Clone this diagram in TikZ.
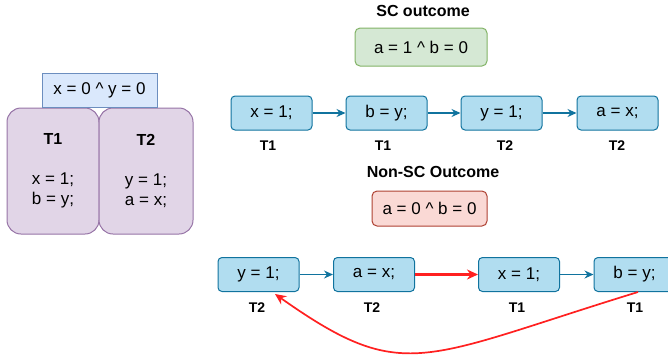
\documentclass[tikz,border=0pt]{standalone}
\usepackage{fontspec}
\setmainfont{Liberation Sans}
\usetikzlibrary{arrows.meta}
\definecolor{opfill}{HTML}{B1DDF0}
\definecolor{opline}{HTML}{10739E}
\definecolor{initfill}{HTML}{DAE8FC}
\definecolor{initline}{HTML}{6C8EBF}
\definecolor{thfill}{HTML}{E1D5E7}
\definecolor{thline}{HTML}{9673A6}
\definecolor{okfill}{HTML}{D5E8D4}
\definecolor{okline}{HTML}{82B366}
\definecolor{badfill}{HTML}{FAD9D5}
\definecolor{badline}{HTML}{AE4132}
\definecolor{cyclered}{HTML}{FF2020}
\begin{document}
\begin{tikzpicture}[x=1pt,y=-1pt,
    op/.style={draw=opline,fill=opfill,line width=1pt,rounded corners=4pt,minimum width=81pt,minimum height=34pt,inner sep=0pt,font=\fontsize{17}{20}\selectfont},
    tid/.style={font=\fontsize{14}{16}\selectfont\bfseries},
    title/.style={font=\fontsize{16}{18}\selectfont\bfseries},
    thread/.style={draw=thline,fill=thfill,line width=1pt,rounded corners=14pt,minimum height=126pt,inner sep=0pt,align=center,font=\fontsize{17}{20}\selectfont},
    result/.style={line width=1pt,rounded corners=5pt,minimum height=38pt,inner sep=0pt,font=\fontsize{17}{20}\selectfont}]
  \useasboundingbox (0,0) rectangle (668,360);
  % program
  \node[thread,minimum width=92pt] (t1) at (53,171) {{\fontsize{16}{20}\selectfont\bfseries T1}\\ \\x = 1;\\b = y;};
  \node[thread,minimum width=94pt] (t2) at (146,171) {{\fontsize{16}{20}\selectfont\bfseries T2}\\ \\y = 1;\\a = x;};
  \node[draw=initline,fill=initfill,line width=1pt,minimum width=115pt,minimum height=34pt,inner sep=0pt,font=\fontsize{17}{20}\selectfont] (init) at (99.5,90) {x = 0 \^{} y = 0};
  % SC outcome
  \node[title] (sc) at (423,11) {SC outcome};
  \node[result,draw=okline,fill=okfill,minimum width=132pt] (scres) at (421,47) {a = 1 \^{} b = 0};
  \node[op] (s1) at (271.5,113) {x = 1;};
  \node[op] (s2) at (386.5,113) {b = y;};
  \node[op] (s3) at (501.5,113) {y = 1;};
  \node[op] (s4) at (617.5,113) {a = x;};
  \node[tid] at (268,146) {T1};
  \node[tid] at (383,146) {T1};
  \node[tid] at (505,146) {T2};
  \node[tid] at (617,146) {T2};
  % Non-SC outcome
  \node[title] (nsc) at (433,172) {Non-SC Outcome};
  \node[result,draw=badline,fill=badfill,minimum width=115pt,minimum height=35pt] (nscres) at (429.5,208.5) {a = 0 \^{} b = 0};
  \node[op] (n1) at (258.5,274.5) {y = 1;};
  \node[op] (n2) at (374,274.5) {a = x;};
  \node[op] (n3) at (519,274.5) {x = 1;};
  \node[op] (n4) at (634.5,274.5) {b = y;};
  \node[tid] at (257,308) {T2};
  \node[tid] at (372,308) {T2};
  \node[tid] at (517,308) {T1};
  \node[tid] at (635,308) {T1};
  \begin{scope}[draw=opline,line width=1.3pt,-{Stealth[length=9pt,width=8pt]}]
    \draw (s1) to (s2);
    \draw (s2) to (s3);
    \draw (s3) to (s4);
    \draw (n1) to (n2);
    \draw (n3) to (n4);
  \end{scope}
  \begin{scope}[draw=cyclered,-{Stealth[length=11pt,width=10pt]}]
    \draw[line width=2.6pt] (n2) to (n3);
    \draw[line width=1.7pt] ([xshift=3.5pt]n4.south) .. controls (420,359) and (404,385) .. ([xshift=16.5pt,yshift=-2pt]n1.south);
  \end{scope}
\end{tikzpicture}
\end{document}
